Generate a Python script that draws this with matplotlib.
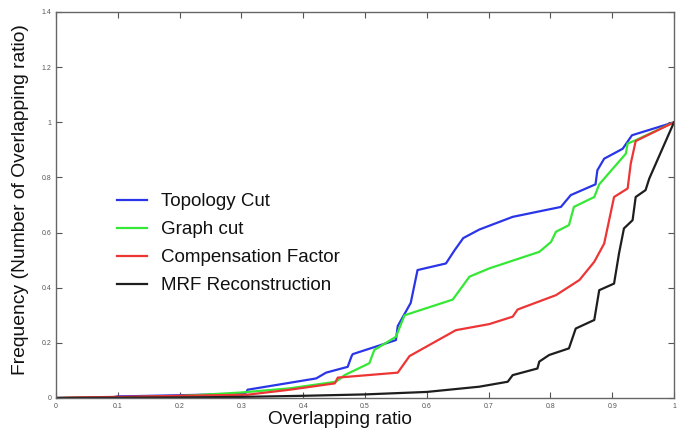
import matplotlib
matplotlib.use("Agg")
import matplotlib.pyplot as plt

plt.rcParams['font.family'] = ['Liberation Sans', 'DejaVu Sans']

# ---- data ----
topo_x = [0.0, 0.09, 0.10, 0.13, 0.20, 0.30, 0.308, 0.31, 0.421, 0.437, 0.472, 0.478, 0.48,
          0.55, 0.553, 0.574, 0.585, 0.631, 0.645, 0.659, 0.685, 0.739, 0.817, 0.833,
          0.873, 0.876, 0.887, 0.917, 0.932, 1.0]
topo_y = [0.0, 0.002, 0.006, 0.007, 0.010, 0.015, 0.020, 0.030, 0.071, 0.092, 0.113, 0.15, 0.159,
          0.21, 0.261, 0.345, 0.464, 0.488, 0.536, 0.58, 0.611, 0.657, 0.693, 0.736,
          0.775, 0.826, 0.868, 0.904, 0.953, 1.0]

graph_x = [0.0, 0.10, 0.20, 0.30, 0.378, 0.453, 0.467, 0.507, 0.515, 0.55, 0.564, 0.642,
           0.669, 0.701, 0.782, 0.801, 0.809, 0.83, 0.838, 0.871, 0.879, 0.922, 0.925,
           0.938, 1.0]
graph_y = [0.0, 0.002, 0.007, 0.02, 0.035, 0.059, 0.083, 0.126, 0.174, 0.222, 0.30, 0.357,
           0.44, 0.47, 0.53, 0.566, 0.603, 0.627, 0.693, 0.729, 0.775, 0.886, 0.923,
           0.935, 1.0]

comp_x = [0.0, 0.03, 0.10, 0.20, 0.31, 0.378, 0.451, 0.456, 0.553, 0.572, 0.647, 0.701,
          0.739, 0.747, 0.809, 0.847, 0.871, 0.887, 0.903, 0.925, 0.93, 0.938, 1.0]
comp_y = [0.0, 0.002, 0.004, 0.008, 0.012, 0.03, 0.053, 0.074, 0.092, 0.152, 0.246, 0.268,
          0.295, 0.321, 0.373, 0.428, 0.494, 0.56, 0.729, 0.76, 0.85, 0.932, 1.0]

mrf_x = [0.0, 0.10, 0.20, 0.30, 0.40, 0.50, 0.60, 0.685, 0.731, 0.739, 0.779, 0.782, 0.798,
         0.83, 0.841, 0.871, 0.879, 0.903, 0.911, 0.919, 0.933, 0.938, 0.954, 0.96, 1.0]
mrf_y = [0.0, 0.001, 0.002, 0.004, 0.008, 0.013, 0.022, 0.041, 0.059, 0.083, 0.107, 0.132,
         0.156, 0.18, 0.252, 0.283, 0.391, 0.415, 0.524, 0.615, 0.645, 0.729, 0.754, 0.796, 1.0]

series_labels = ["Topology Cut", "Graph cut", "Compensation Factor", "MRF Reconstruction"]
x_ticks = [0, 0.1, 0.2, 0.3, 0.4, 0.5, 0.6, 0.7, 0.8, 0.9, 1]
x_tick_labels = ["0", "0.1", "0.2", "0.3", "0.4", "0.5", "0.6", "0.7", "0.8", "0.9", "1"]
y_ticks = [0, 0.2, 0.4, 0.6, 0.8, 1.0, 1.2, 1.4]
y_tick_labels = ["0", "0.2", "0.4", "0.6", "0.8", "1", "1.2", "1.4"]

colors = ["#2b35e8", "#35e835", "#ee3535", "#1e1e1e"]

fig = plt.figure(figsize=(6.81, 4.34), dpi=100)
ax = fig.add_axes([56/681, 36/434, 618/681, 386/434])

for (xs, ys), lab, c in zip([(topo_x, topo_y), (graph_x, graph_y), (comp_x, comp_y), (mrf_x, mrf_y)],
                            series_labels, colors):
    ax.plot(xs, ys, color=c, lw=1.6, label=lab)

ax.set_xlim(0, 1)
ax.set_ylim(0, 1.4)
ax.set_xticks(x_ticks)
ax.set_xticklabels(x_tick_labels)
ax.set_yticks(y_ticks)
ax.set_yticklabels(y_tick_labels)
ax.tick_params(direction='in', length=4, width=0.8, labelsize=5, colors='#555555',
               top=True, right=True, labelcolor='#555555')
for s in ax.spines.values():
    s.set_color('#666666')
    s.set_linewidth(1.0)

ax.set_xlabel("Overlapping ratio", fontsize=13.7, color='#111111')
ax.set_ylabel("Frequency (Number of Overlapping ratio)", fontsize=13.9, color='#111111')
ax.xaxis.set_label_coords(0.46, -0.055, transform=ax.transAxes)
ax.yaxis.set_label_coords(-0.058, 0.513, transform=ax.transAxes)
ax.xaxis.label.set_va('center')
ax.yaxis.label.set_va('center')

leg = ax.legend(loc='upper left', bbox_to_anchor=(0.075, 0.57), frameon=False,
                fontsize=13.5, handlelength=1.6, handletextpad=0.75, labelspacing=0.58,
                borderpad=0.3)
for t in leg.get_texts():
    t.set_color('#111111')

fig.savefig("out.png", dpi=100)
